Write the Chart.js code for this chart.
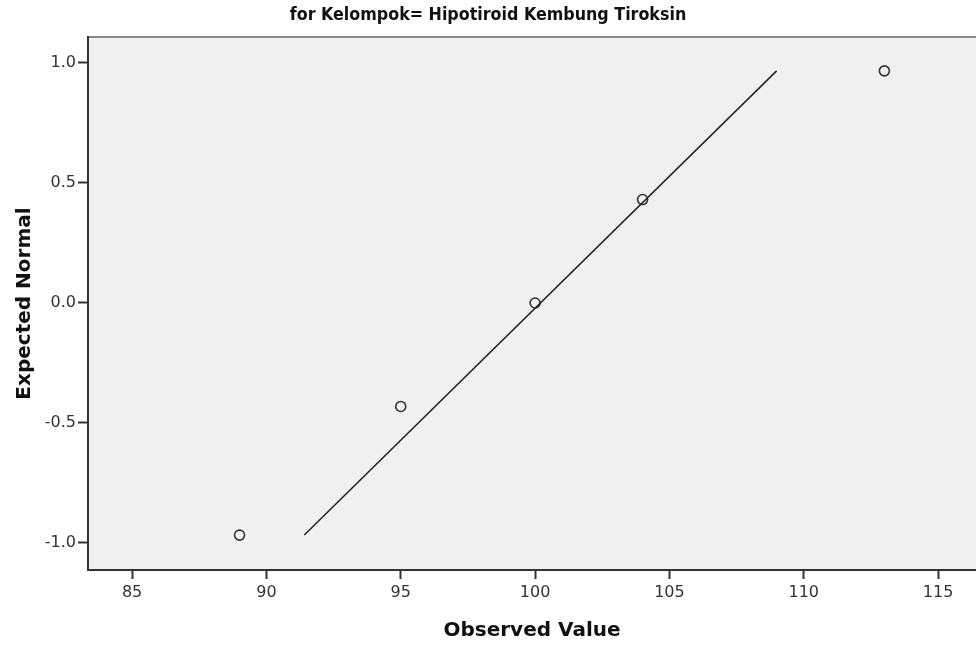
<!DOCTYPE html>
<html>
<head>
<meta charset="utf-8">
<script src="https://cdn.jsdelivr.net/npm/chart.js@4.4.1/dist/chart.umd.min.js"></script>
<style>
  html, body { margin: 0; padding: 0; background: #fff; overflow: hidden; }
  #wrap { width: 976px; height: 648px; position: relative; }
  canvas { display: block; }
</style>
</head>
<body>
<div id="wrap"><canvas id="qq"></canvas></div>
<script>
// observed values and their expected normal scores
const observed = [89, 95, 100, 104, 113];
const expectedNormal = [-0.967, -0.431, 0, 0.431, 0.967];

// reference line end points
const refLineX = [91.41, 108.99];
const refLineY = [-0.967, 0.967];

const xTicks = [85, 90, 95, 100, 105, 110, 115];
const yTicks = [-1.0, -0.5, 0.0, 0.5, 1.0];

const titleText = 'for Kelompok= Hipotiroid Kembung Tiroksin';

// plot frame: grey fill plus the darker left/bottom and light top edge
const framePlugin = {
  id: 'frame',
  beforeDraw(chart) {
    const { ctx, chartArea: a } = chart;
    ctx.save();
    ctx.fillStyle = '#f0f0f0';
    ctx.fillRect(a.left, a.top, a.right - a.left, a.bottom - a.top);
    ctx.restore();
  },
  afterDatasetsDraw(chart) {
    const { ctx, chartArea: a } = chart;
    ctx.save();
    ctx.strokeStyle = '#8a8a8a';
    ctx.lineWidth = 2;
    ctx.beginPath();
    ctx.moveTo(a.left, a.top);
    ctx.lineTo(a.right, a.top);
    ctx.stroke();
    ctx.strokeStyle = '#333';
    ctx.lineWidth = 2;
    ctx.beginPath();
    ctx.moveTo(a.left, a.top - 1);
    ctx.lineTo(a.left, a.bottom);
    ctx.lineTo(a.right, a.bottom);
    ctx.stroke();
    ctx.restore();
  }
};

new Chart(document.getElementById('qq'), {
  type: 'scatter',
  data: {
    datasets: [
      {
        type: 'line',
        data: refLineX.map((x, i) => ({ x: x, y: refLineY[i] })),
        borderColor: '#222',
        borderWidth: 1.5,
        pointRadius: 0,
        fill: false
      },
      {
        data: observed.map((x, i) => ({ x: x, y: expectedNormal[i] })),
        pointStyle: 'circle',
        pointRadius: 5,
        pointBorderWidth: 1.6,
        pointBorderColor: '#333',
        pointBackgroundColor: 'rgba(0,0,0,0)'
      }
    ]
  },
  options: {
    responsive: true,
    maintainAspectRatio: false,
    animation: false,
    layout: { padding: 0, autoPadding: false },
    plugins: {
      legend: { display: false },
      tooltip: { enabled: false },
      title: {
        display: true,
        text: titleText,
        color: '#111',
        font: { family: "'DejaVu Sans Condensed', 'DejaVu Sans'", size: 17.7, weight: 'bold' },
        padding: { top: 5, bottom: 10.8 }
      }
    },
    scales: {
      x: {
        type: 'linear',
        min: 83.36,
        max: 116.41,
        afterFit(s) {
          s.height = 78;
          // plot runs to the right edge of the page
          s.paddingLeft = 0;
          s.paddingRight = 0;
        },
        afterBuildTicks(s) { s.ticks = xTicks.map(v => ({ value: v })); },
        border: { display: false },
        grid: { drawOnChartArea: false, drawTicks: true, tickLength: 9, tickWidth: 2, color: '#333' },
        ticks: {
          color: '#333',
          padding: 4,
          font: { family: 'DejaVu Sans', size: 16 }
        },
        title: {
          display: true,
          text: 'Observed Value',
          color: '#111',
          font: { family: 'DejaVu Sans', size: 20, weight: 'bold' },
          padding: { top: 0, bottom: 5 }
        }
      },
      y: {
        type: 'linear',
        min: -1.1125,
        max: 1.108,
        afterFit(s) { s.width = 88; },
        afterBuildTicks(s) { s.ticks = yTicks.map(v => ({ value: v })); },
        border: { display: false },
        grid: { drawOnChartArea: false, drawTicks: true, tickLength: 10, tickWidth: 2, color: '#333' },
        ticks: {
          color: '#333',
          padding: 2,
          font: { family: 'DejaVu Sans', size: 16 },
          callback: v => v.toFixed(1)
        },
        title: {
          display: true,
          text: 'Expected Normal',
          color: '#111',
          font: { family: 'DejaVu Sans', size: 20, weight: 'bold' },
          padding: { top: 13, bottom: 0 }
        }
      }
    }
  },
  plugins: [framePlugin]
});
</script>
</body>
</html>
